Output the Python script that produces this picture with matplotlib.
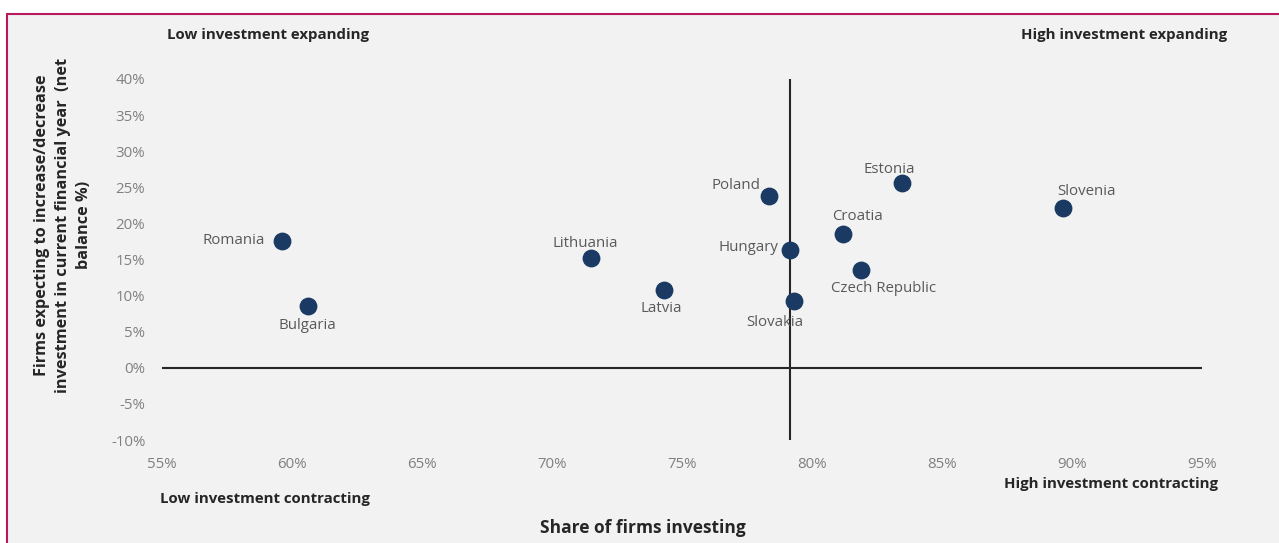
import numpy as np
import matplotlib.pyplot as plt
from matplotlib.patches import Rectangle
from matplotlib.ticker import FuncFormatter

plt.rcParams['font.family'] = ['Open Sans', 'DejaVu Sans']

countries = ["Romania", "Bulgaria", "Lithuania", "Latvia", "Poland", "Hungary",
             "Slovakia", "Croatia", "Czech Republic", "Estonia", "Slovenia"]
share_investing = [59.6, 60.6, 71.5, 74.3, 78.35, 79.15, 79.3, 81.2, 81.9, 83.45, 89.65]
net_balance = [17.6, 8.6, 15.2, 10.8, 23.8, 16.3, 9.3, 18.6, 13.6, 25.6, 22.2]
avg_share = 79.15

# where each label sits relative to its dot (offset in points, ha, va)
label_pos = {
    "Romania": (-12, 0, "right", "center"),
    "Bulgaria": (0, -9, "center", "top"),
    "Lithuania": (-4, 5, "center", "bottom"),
    "Latvia": (-2, -8, "center", "top"),
    "Poland": (-6, 2, "right", "bottom"),
    "Hungary": (-8, 2, "right", "center"),
    "Slovakia": (-14, -10, "center", "top"),
    "Croatia": (10, 7, "center", "bottom"),
    "Czech Republic": (16, -8, "center", "top"),
    "Estonia": (-9, 4, "center", "bottom"),
    "Slovenia": (17, 6, "center", "bottom"),
}

fig = plt.figure(figsize=(12.79, 5.43), dpi=100)
fig.patch.set_facecolor("white")
fig.add_artist(Rectangle((7 / 1279, -0.05), 1.1, 1 - 14 / 543 + 0.05,
                         transform=fig.transFigure, facecolor="#f2f2f2",
                         edgecolor="#b8195e", linewidth=1.5, zorder=0))

ax = fig.add_axes([162 / 1279, 1 - 440 / 543, 1040 / 1279, 361 / 543])
ax.set_facecolor("none")
for s in ax.spines.values():
    s.set_visible(False)

ax.set_xlim(55, 95)
ax.set_ylim(-10, 40)
ax.set_xticks(np.arange(55, 96, 5))
ax.set_yticks(np.arange(-10, 41, 5))
ax.xaxis.set_major_formatter(FuncFormatter(lambda v, p: f"{v:.0f}%"))
ax.yaxis.set_major_formatter(FuncFormatter(lambda v, p: f"{v:.0f}%"))
ax.tick_params(length=0, labelsize=10.8, labelcolor="#808080")
ax.tick_params(axis="x", pad=12)
ax.tick_params(axis="y", pad=12)

ax.axhline(0, color="#262626", lw=1.5, zorder=1)
ax.axvline(avg_share, color="#262626", lw=1.5, zorder=1)

ax.scatter(share_investing, net_balance, s=140, color="#1a3a63", zorder=3)
for c, x, y in zip(countries, share_investing, net_balance):
    dx, dy, ha, va = label_pos[c]
    ax.annotate(c, (x, y), xytext=(dx, dy), textcoords="offset points",
                ha=ha, va=va, fontsize=10.8, color="#595959", zorder=4)

bold = dict(fontsize=10.8, fontweight="bold", color="#262626")
fig.text(167 / 1279, 1 - 35 / 543, "Low investment expanding", ha="left", va="center", **bold)
fig.text(1227 / 1279, 1 - 35 / 543, "High investment expanding", ha="right", va="center", **bold)
fig.text(160 / 1279, 1 - 499 / 543, "Low investment contracting", ha="left", va="center", **bold)
fig.text(1218 / 1279, 1 - 484 / 543, "High investment contracting", ha="right", va="center", **bold)

fig.text(643 / 1279, 1 - 528 / 543, "Share of firms investing", ha="center", va="center",
         fontsize=12.5, fontweight="bold", color="#262626")
fig.text(63 / 1279, 1 - 225 / 543,
         "Firms expecting to increase/decrease\ninvestment in current financial year  (net\nbalance %)",
         rotation=90, ha="center", va="center", multialignment="center",
         fontsize=11.7, fontweight="bold", color="#262626", linespacing=1.4)

fig.savefig("out.png", dpi=100)
